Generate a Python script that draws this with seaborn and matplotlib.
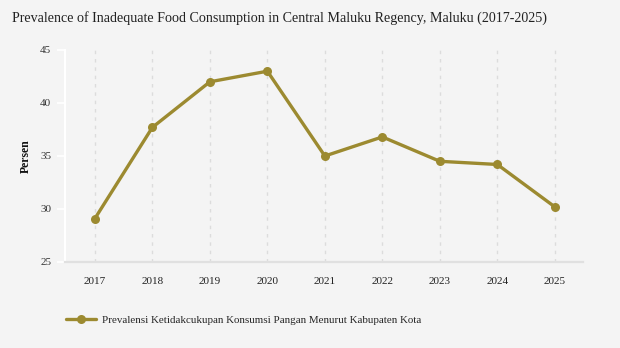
import matplotlib
matplotlib.use("Agg")
import matplotlib.pyplot as plt
import seaborn as sns
import pandas as pd

years = ["2017", "2018", "2019", "2020", "2021", "2022", "2023", "2024", "2025"]
prevalence = [29.1, 37.7, 42.0, 43.0, 35.0, 36.8, 34.5, 34.2, 30.2]
series_name = "Prevalensi Ketidakcukupan Konsumsi Pangan Menurut Kabupaten Kota"
title = "Prevalence of Inadequate Food Consumption in Central Maluku Regency, Maluku (2017-2025)"
y_ticks = [25, 30, 35, 40, 45]

bg = "#f4f4f4"
line_color = "#9c8a30"

sns.set_theme(style="white")
plt.rcParams["font.family"] = ["Liberation Serif", "DejaVu Serif"]

df = pd.DataFrame({"Tahun": years, "Persen": prevalence, "Seri": series_name})

fig = plt.figure(figsize=(6.2, 3.48), dpi=100, facecolor=bg)
ax = fig.add_axes([65 / 620, 1 - 262 / 348, (583 - 65) / 620, (262 - 50) / 348])
ax.set_facecolor(bg)

sns.lineplot(data=df, x="Tahun", y="Persen", hue="Seri", palette=[line_color],
             marker="o", markersize=6.5, markeredgewidth=0, linewidth=2.4,
             sort=False, ax=ax)

ax.set_xlim(-0.52, 8.49)
ax.set_ylim(25, 45)
ax.set_yticks(y_ticks)
ax.set_yticklabels([str(t) for t in y_ticks], fontsize=8, color="#333333")
ax.set_xticks(range(len(years)))
ax.set_xticklabels(years, fontsize=8, color="#222222")

for i in range(len(years)):
    ax.axvline(i, color="#dcdcdc", linestyle=(0, (2.5, 3.5)), linewidth=1.0, zorder=0)

for side in ["top", "right"]:
    ax.spines[side].set_visible(False)
ax.spines["left"].set_color("white")
ax.spines["left"].set_linewidth(1.5)
ax.spines["bottom"].set_color("#e0e0e0")
ax.spines["bottom"].set_linewidth(1.6)

ax.tick_params(axis="y", length=6, width=1.2, color="white", pad=4, left=True)
ax.tick_params(axis="x", length=0, pad=11)

ax.set_xlabel("")
ax.set_ylabel("Persen", fontsize=8.5, fontweight="bold", color="#111111", labelpad=6)

fig.text(12 / 620, 1 - 18 / 348, title, fontsize=10.1, color="#222222", va="center", ha="left")

handles, labels = ax.get_legend_handles_labels()
ax.legend(handles, labels, loc="center left", bbox_to_anchor=(66 / 620, 1 - 320 / 348),
          bbox_transform=fig.transFigure, frameon=False, fontsize=7.9,
          handlelength=2.7, handletextpad=0.6, borderaxespad=0, borderpad=0)

fig.savefig("out.png", dpi=100, facecolor=bg)
